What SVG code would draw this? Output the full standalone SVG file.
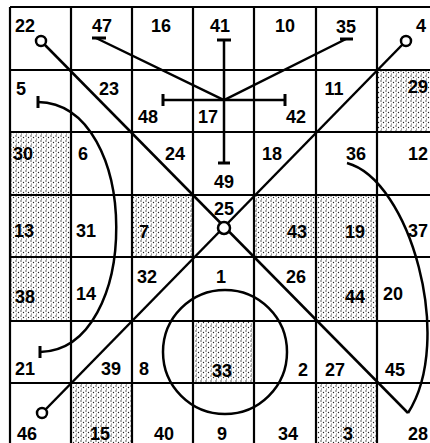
<svg xmlns="http://www.w3.org/2000/svg" width="430" height="443" viewBox="0 0 430 443">
<defs>
<pattern id="dots" width="5" height="5" patternUnits="userSpaceOnUse">
<rect width="5" height="5" fill="#fff"/>
<circle cx="1" cy="1" r="0.7" fill="#222"/>
<circle cx="3.5" cy="2.5" r="0.7" fill="#222"/>
<circle cx="1.5" cy="4" r="0.6" fill="#444"/>
</pattern>
<style>
.sh{fill:url(#dots);stroke:none}
.t{font-family:"Liberation Sans Narrow","Liberation Sans",Arial,sans-serif;font-weight:bold;font-size:18px;fill:#000;text-anchor:middle}
.g{stroke:#000;stroke-width:2.2;fill:none}
.c{stroke:#000;stroke-width:2.5;fill:none;stroke-linecap:butt}
.o{stroke:#000;stroke-width:2.5;fill:#fff}
.bar{stroke:#000;stroke-width:3;fill:none}
</style>
</defs>
<rect width="430" height="443" fill="#fff"/>
<g id="cells">
<g id="c22"><text class="t" x="25" y="32">22</text></g>
<g id="c47"><text class="t" x="102" y="32">47</text></g>
<g id="c16"><text class="t" x="161" y="32">16</text></g>
<g id="c41"><text class="t" x="220" y="32">41</text></g>
<g id="c10"><text class="t" x="285" y="32">10</text></g>
<g id="c35"><text class="t" x="346" y="33">35</text></g>
<g id="c4"><text class="t" x="421" y="32">4</text></g>
<g id="c5"><text class="t" x="21" y="95">5</text></g>
<g id="c23"><text class="t" x="109" y="95">23</text></g>
<g id="c48"><text class="t" x="148" y="123">48</text></g>
<g id="c17"><text class="t" x="208" y="123">17</text></g>
<g id="c42"><text class="t" x="296" y="123">42</text></g>
<g id="c11"><text class="t" x="334" y="95">11</text></g>
<g id="c29"><rect class="sh" x="377" y="70" width="61" height="62"/><text class="t" x="418" y="93">29</text></g>
<g id="c30"><rect class="sh" x="10" y="132" width="61" height="63"/><text class="t" x="23" y="160">30</text></g>
<g id="c6"><text class="t" x="83" y="160">6</text></g>
<g id="c24"><text class="t" x="175" y="160">24</text></g>
<g id="c49"><text class="t" x="224" y="188">49</text></g>
<g id="c18"><text class="t" x="272" y="160">18</text></g>
<g id="c36"><text class="t" x="356" y="160">36</text></g>
<g id="c12"><text class="t" x="418" y="160">12</text></g>
<g id="c13"><rect class="sh" x="10" y="195" width="61" height="62"/><text class="t" x="24" y="237">13</text></g>
<g id="c31"><text class="t" x="86" y="237">31</text></g>
<g id="c7"><rect class="sh" x="132" y="195" width="61" height="62"/><text class="t" x="144" y="238">7</text></g>
<g id="c25"><text class="t" x="224" y="215">25</text></g>
<g id="c43"><rect class="sh" x="254" y="195" width="62" height="62"/><text class="t" x="297" y="238">43</text></g>
<g id="c19"><rect class="sh" x="316" y="195" width="61" height="62"/><text class="t" x="355" y="238">19</text></g>
<g id="c37"><text class="t" x="418" y="237">37</text></g>
<g id="c38"><rect class="sh" x="10" y="257" width="61" height="64"/><text class="t" x="25" y="303">38</text></g>
<g id="c14"><text class="t" x="86" y="300">14</text></g>
<g id="c32"><text class="t" x="147" y="283">32</text></g>
<g id="c1"><text class="t" x="221" y="283">1</text></g>
<g id="c26"><text class="t" x="296" y="283">26</text></g>
<g id="c44"><rect class="sh" x="316" y="257" width="61" height="64"/><text class="t" x="355" y="303">44</text></g>
<g id="c20"><text class="t" x="393" y="300">20</text></g>
<g id="c21"><text class="t" x="25" y="375">21</text></g>
<g id="c39"><text class="t" x="111" y="375">39</text></g>
<g id="c8"><text class="t" x="144" y="375">8</text></g>
<g id="c33"><rect class="sh" x="193" y="321" width="61" height="62"/><text class="t" x="222" y="377">33</text></g>
<g id="c2"><text class="t" x="303" y="376">2</text></g>
<g id="c27"><text class="t" x="335" y="376">27</text></g>
<g id="c45"><text class="t" x="395" y="376">45</text></g>
<g id="c46"><text class="t" x="27" y="440">46</text></g>
<g id="c15"><rect class="sh" x="71" y="383" width="61" height="62"/><text class="t" x="100" y="440">15</text></g>
<g id="c40"><text class="t" x="164" y="440">40</text></g>
<g id="c9"><text class="t" x="222" y="440">9</text></g>
<g id="c34"><text class="t" x="288" y="440">34</text></g>
<g id="c3"><rect class="sh" x="316" y="383" width="61" height="62"/><text class="t" x="348" y="440">3</text></g>
<g id="c28"><text class="t" x="418" y="440">28</text></g>
</g>
<g id="grid" class="g">
<path d="M10,7V445M71,7V445M132,7V445M193,7V445M254,7V445M316,7V445M377,7V445M438,7V445"/>
<path d="M10,7H438M10,70H438M10,132H438M10,195H438M10,257H438M10,321H438M10,383H438M10,445H438"/>
</g>
<g id="connectors">
<path class="c" d="M44.5,44.5L408,413"/>
<path class="c" d="M402.5,44.5L45.5,409.5"/>
<path class="c" d="M347,163C410,180 455,340 408,413"/>
<path class="c" d="M38,102C142,104 142,350 40,352"/>
<path class="bar" d="M38,96V108M40,346V358"/>
<path class="c" d="M224,40V163M163,100H285"/>
<path class="bar" d="M217,40H231M218,163H230M163,94V106M285,94V106"/>
<path class="c" d="M96,38L224,100L346,39"/>
<path class="bar" d="M92,38H106M340,39H353"/>
<circle class="c" cx="225" cy="352" r="62"/>
<circle class="o" cx="41" cy="41" r="5"/>
<circle class="o" cx="406" cy="41" r="5"/>
<circle class="o" cx="42" cy="413" r="5"/>
<circle class="o" cx="224" cy="228" r="6"/>
</g>
</svg>
